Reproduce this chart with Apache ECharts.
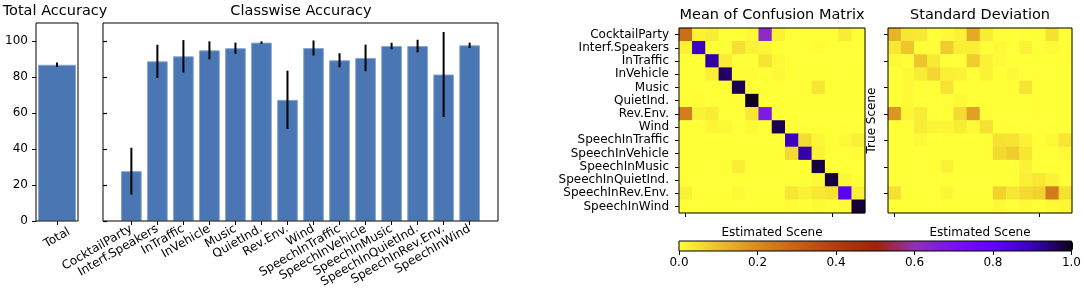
<!DOCTYPE html>
<html>
<head>
<meta charset="utf-8">
<script src="https://cdn.jsdelivr.net/npm/echarts@6/dist/echarts.min.js"></script>
<style>
  html, body { margin: 0; padding: 0; background: #fff; }
  #chart { width: 1084px; height: 298px; }
</style>
</head>
<body>
<div id="chart"></div>
<script>
// scene classes (rows = true scene, cols = estimated scene)
const classes = ['CocktailParty', 'Interf.Speakers', 'InTraffic', 'InVehicle', 'Music', 'QuietInd.',
  'Rev.Env.', 'Wind', 'SpeechInTraffic', 'SpeechInVehicle', 'SpeechInMusic', 'SpeechInQuietInd.',
  'SpeechInRev.Env.', 'SpeechInWind'];

// accuracy in percent, mean and std over folds
const totalLabels = ['Total'];
const totalMean = [86.8];
const totalStd = [1.2];
const accMean = [27.7, 88.7, 91.5, 94.8, 96.0, 99.1, 67.3, 96.1, 89.3, 90.6, 97.2, 97.2, 81.4, 97.6];
const accStd = [13.0, 9.2, 9.0, 5.0, 3.1, 0.7, 16.2, 4.2, 3.9, 7.4, 1.8, 3.5, 23.6, 1.5];
const accTicks = [0, 20, 40, 60, 80, 100];

// confusion matrix, mean
const confMean = [
  [0.27, 0.02, 0.03, 0, 0, 0.01, 0.62, 0.02, 0, 0, 0, 0, 0.03, 0],
  [0.02, 0.887, 0, 0, 0.05, 0.02, 0.015, 0, 0, 0, 0.005, 0, 0, 0],
  [0, 0, 0.915, 0.03, 0, 0, 0.045, 0.01, 0, 0, 0, 0, 0, 0],
  [0, 0, 0.025, 0.948, 0.007, 0.007, 0, 0.012, 0, 0, 0, 0, 0, 0],
  [0, 0, 0, 0, 0.96, 0, 0, 0, 0, 0, 0.04, 0, 0, 0],
  [0, 0.007, 0, 0, 0, 0.991, 0, 0, 0, 0, 0, 0, 0, 0],
  [0.23, 0.02, 0.03, 0, 0, 0.04, 0.673, 0, 0, 0, 0, 0, 0, 0],
  [0, 0, 0.015, 0.01, 0, 0.01, 0, 0.961, 0, 0, 0, 0, 0, 0],
  [0, 0, 0, 0, 0, 0, 0, 0, 0.893, 0.055, 0.015, 0, 0.01, 0.025],
  [0, 0, 0, 0, 0, 0, 0, 0, 0.06, 0.906, 0.02, 0, 0, 0.007],
  [0, 0, 0, 0, 0.028, 0, 0, 0, 0, 0, 0.972, 0, 0, 0],
  [0, 0, 0, 0, 0, 0, 0, 0, 0, 0, 0.01, 0.972, 0.015, 0],
  [0.02, 0, 0, 0, 0.01, 0, 0, 0, 0.04, 0.02, 0.035, 0.045, 0.814, 0.025],
  [0, 0, 0, 0, 0, 0, 0, 0, 0.005, 0, 0.01, 0, 0.008, 0.976]
];

// confusion matrix, standard deviation
const confStd = [
  [0.12, 0.04, 0.035, 0, 0.01, 0.02, 0.14, 0.03, 0, 0, 0, 0, 0.05, 0],
  [0.04, 0.09, 0, 0, 0.08, 0.025, 0.025, 0, 0.01, 0, 0.02, 0, 0.01, 0],
  [0.01, 0, 0.09, 0.035, 0, 0, 0.08, 0.02, 0.01, 0, 0, 0, 0, 0],
  [0, 0.01, 0.03, 0.065, 0.025, 0.02, 0, 0.02, 0, 0.01, 0, 0, 0, 0],
  [0, 0.01, 0, 0, 0.045, 0, 0, 0, 0, 0, 0.045, 0, 0, 0],
  [0, 0.01, 0, 0, 0, 0.01, 0, 0, 0, 0, 0, 0, 0, 0],
  [0.18, 0.015, 0.03, 0, 0, 0.06, 0.16, 0, 0, 0, 0, 0, 0, 0],
  [0, 0, 0.03, 0.015, 0.015, 0.03, 0.01, 0.05, 0, 0, 0, 0, 0, 0],
  [0, 0, 0.01, 0, 0, 0, 0, 0, 0.05, 0.045, 0.02, 0, 0.01, 0.04],
  [0, 0, 0, 0, 0, 0, 0, 0, 0.06, 0.08, 0.04, 0, 0, 0.01],
  [0, 0, 0, 0, 0.02, 0, 0, 0, 0, 0, 0.02, 0, 0, 0],
  [0, 0, 0, 0, 0, 0, 0, 0, 0, 0, 0.025, 0.04, 0.02, 0],
  [0.05, 0, 0, 0, 0.015, 0, 0, 0, 0.07, 0.04, 0.06, 0.07, 0.236, 0.05],
  [0, 0, 0, 0, 0, 0, 0, 0, 0.01, 0, 0.01, 0, 0.01, 0.015]
];

const cbarTicks = [0, 0.2, 0.4, 0.6, 0.8, 1.0];
const cmap = ['#ffff38', '#ecc02a', '#d98a1f', '#c76016', '#b33d0c', '#a02305',
  '#9030b8', '#7a10f5', '#6200ff', '#3800b8', '#0a0010'];

const FONT = "'DejaVu Sans', sans-serif";
const barColor = '#4a77b4';
// matplotlib-like side margin of the classwise x axis (in bar units)
const PAD = 1.09;
const classPos = classes.map((c, i) => i + PAD);

function toCells(m) {
  let out = [];
  m.forEach((row, r) => row.forEach((v, c) => out.push([c, r, v])));
  return out;
}

function errData(xs, mean, std) {
  return mean.map((m, i) => [xs[i], m, std[i]]);
}

function renderErr(params, api) {
  let x = api.value(0), m = api.value(1), e = api.value(2);
  let p1 = api.coord([x, m - e]);
  let p2 = api.coord([x, m + e]);
  return {
    type: 'line',
    shape: { x1: p1[0], y1: p1[1], x2: p2[0], y2: p2[1] },
    style: { stroke: '#000', lineWidth: 2 }
  };
}

function title(text, x, y) {
  return { type: 'text', x: x, y: y, style: { text: text, align: 'center', verticalAlign: 'middle',
    font: '14.5px ' + FONT, fill: '#000' } };
}

const frame = { show: true, borderColor: '#000', borderWidth: 1, backgroundColor: 'transparent', z: 3 };
const tickOut = { show: true, alignWithLabel: true, length: 4, lineStyle: { color: '#000' } };
const lbl = { color: '#000', fontFamily: FONT, fontSize: 12 };
const nameStyle = { color: '#000', fontFamily: FONT, fontSize: 12 };

const chart = echarts.init(document.getElementById('chart'), null, { renderer: 'canvas' });
chart.setOption({
  animation: false,
  textStyle: { fontFamily: FONT },
  graphic: [
    title('Total Accuracy', 55, 11),
    title('Classwise Accuracy', 301, 11),
    title('Mean of Confusion Matrix', 772, 15),
    title('Standard Deviation', 980, 15)
  ],
  grid: [
    Object.assign({ left: 36, top: 23, width: 42, height: 198 }, frame),
    Object.assign({ left: 103, top: 23, width: 395, height: 198 }, frame),
    Object.assign({ left: 679, top: 28, width: 186, height: 185 }, frame),
    Object.assign({ left: 888, top: 28, width: 184, height: 185 }, frame),
    Object.assign({ left: 679, top: 241, width: 394, height: 10 }, frame, { z: 6 })
  ],
  visualMap: {
    type: 'continuous',
    min: 0, max: 1,
    orient: 'horizontal',
    left: 679, top: 241,
    itemWidth: 10, itemHeight: 394,
    padding: 0,
    calculable: false,
    hoverLink: false,
    seriesIndex: [4, 5],
    inRange: { color: cmap }
  },
  xAxis: [
    { gridIndex: 0, type: 'category', data: totalLabels, axisLine: { show: false }, axisTick: tickOut,
      axisLabel: Object.assign({ rotate: 30, margin: 17, interval: 0, align: 'center', verticalAlign: 'middle' }, lbl) },
    { gridIndex: 1, type: 'value', min: 0, max: classes.length - 1 + 2 * PAD,
      axisLine: { show: false }, splitLine: { show: false },
      axisTick: { show: true, length: 4, lineStyle: { color: '#000' }, customValues: classPos },
      axisLabel: Object.assign({ rotate: 30, margin: 7, customValues: classPos,
        formatter: v => classes[Math.round(v - PAD)] }, lbl) },
    { gridIndex: 2, type: 'category', data: classes, axisLine: { show: false }, axisTick: tickOut,
      axisLabel: { show: false }, name: 'Estimated Scene', nameLocation: 'middle', nameGap: 14,
      nameTextStyle: nameStyle },
    { gridIndex: 3, type: 'category', data: classes, axisLine: { show: false }, axisTick: tickOut,
      axisLabel: { show: false }, name: 'Estimated Scene', nameLocation: 'middle', nameGap: 14,
      nameTextStyle: nameStyle },
    { gridIndex: 4, type: 'value', min: 0, max: 1, axisLine: { show: false },
      axisTick: { show: true, length: 4, lineStyle: { color: '#000' }, customValues: cbarTicks },
      splitLine: { show: false },
      axisLabel: Object.assign({ margin: 6, customValues: cbarTicks, formatter: v => v.toFixed(1) }, lbl) }
  ],
  yAxis: [
    { gridIndex: 0, type: 'value', min: 0, max: 110, axisLine: { show: false }, splitLine: { show: false },
      axisTick: { show: true, length: 4, lineStyle: { color: '#000' }, customValues: accTicks },
      axisLabel: Object.assign({ margin: 8, customValues: accTicks }, lbl) },
    // this axis ends up facing inwards, so flip the ticks to point outwards like the reference
    { gridIndex: 1, type: 'value', min: 0, max: 110, axisLine: { show: false }, splitLine: { show: false },
      axisTick: { show: true, inside: true, length: 4, lineStyle: { color: '#000', width: 1.2 }, customValues: accTicks },
      axisLabel: { show: false } },
    { gridIndex: 2, type: 'category', data: classes, inverse: true, axisLine: { show: false }, axisTick: tickOut,
      axisLabel: Object.assign({ margin: 10, interval: 0 }, lbl) },
    { gridIndex: 3, type: 'category', data: classes, inverse: true, axisLine: { show: false }, axisTick: tickOut,
      axisLabel: { show: false }, name: 'True Scene', nameLocation: 'middle', nameRotate: 90, nameGap: 10,
      nameTextStyle: nameStyle },
    { gridIndex: 4, type: 'value', show: false, min: 0, max: 1 }
  ],
  series: [
    { type: 'bar', xAxisIndex: 0, yAxisIndex: 0, data: totalMean, barWidth: 38,
      itemStyle: { color: barColor, borderColor: '#86a6d4', borderWidth: 1 } },
    { type: 'custom', xAxisIndex: 0, yAxisIndex: 0, data: errData([0], totalMean, totalStd), renderItem: renderErr, z: 4 },
    { type: 'bar', xAxisIndex: 1, yAxisIndex: 1, data: accMean.map((v, i) => [classPos[i], v]), barWidth: 20.7,
      itemStyle: { color: barColor, borderColor: '#86a6d4', borderWidth: 1 } },
    { type: 'custom', xAxisIndex: 1, yAxisIndex: 1, data: errData(classPos, accMean, accStd), renderItem: renderErr, z: 4 },
    { type: 'heatmap', xAxisIndex: 2, yAxisIndex: 2, data: toCells(confMean), emphasis: { disabled: true } },
    { type: 'heatmap', xAxisIndex: 3, yAxisIndex: 3, data: toCells(confStd), emphasis: { disabled: true } },
    { type: 'scatter', xAxisIndex: 4, yAxisIndex: 4, data: [], silent: true }
  ]
});
</script>
</body>
</html>
